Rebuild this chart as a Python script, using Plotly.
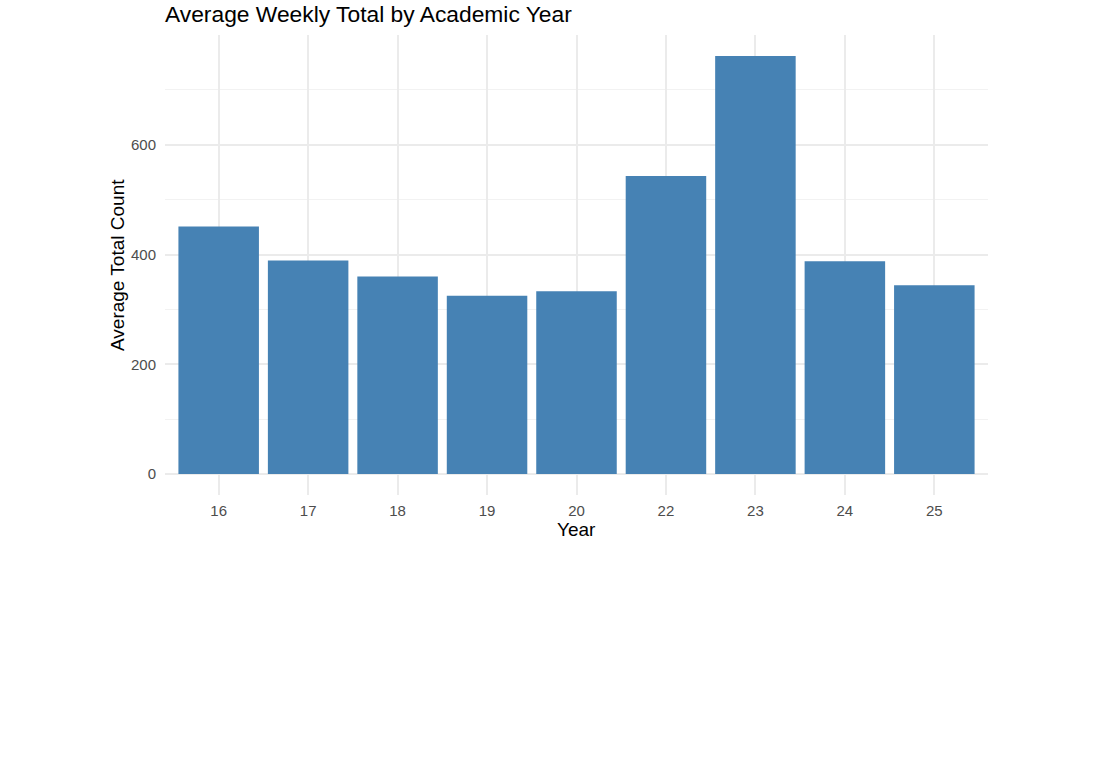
import plotly.graph_objects as go

years = ["16", "17", "18", "19", "20", "22", "23", "24", "25"]
avg_total = [451, 389, 360, 325, 333, 543, 762, 388, 344]

ymax = max(avg_total)
pad = 0.05 * ymax

fig = go.Figure(go.Bar(
    x=years, y=avg_total, width=0.9,
    marker=dict(color="#4682B4", line=dict(width=0)),
))

FONT = "Liberation Sans, Arial, sans-serif"

fig.update_layout(
    width=1120, height=784,
    margin=dict(l=165, r=132, t=35, b=289),
    paper_bgcolor="white", plot_bgcolor="white",
    showlegend=False,
    font=dict(family=FONT),
    xaxis=dict(
        type="category", range=[-0.6, 8.6],
        showgrid=True, gridcolor="#EBEBEB", gridwidth=1.6,
        zeroline=False, showline=False,
        ticks="outside", ticklen=2, tickcolor="rgba(0,0,0,0)",
        tickfont=dict(size=15, color="#4D4D4D", family=FONT),
    ),
    yaxis=dict(
        range=[-pad, ymax + pad],
        tickmode="array", tickvals=[0, 200, 400, 600],
        ticktext=["0", "200", "400", "600"],
        showgrid=True, gridcolor="#EBEBEB", gridwidth=1.6,
        minor=dict(tickmode="array", tickvals=[100, 300, 500, 700],
                   showgrid=True, gridcolor="#F2F2F2", gridwidth=1),
        zeroline=False, showline=False,
        ticks="outside", ticklen=5, tickcolor="rgba(0,0,0,0)",
        tickfont=dict(size=15, color="#4D4D4D", family=FONT),
    ),
    annotations=[
        dict(text="Average Weekly Total by Academic Year", xref="paper", yref="paper",
             x=0, y=1, yshift=21, xshift=-2, xanchor="left", yanchor="middle", showarrow=False,
             font=dict(size=22.8, color="black", family=FONT)),
        dict(text="Year", xref="paper", yref="paper", x=0.5, y=0, yshift=-34,
             xanchor="center", yanchor="middle", showarrow=False,
             font=dict(size=19, color="black", family=FONT)),
        dict(text="Average Total Count", xref="paper", yref="paper", x=0, y=0.5,
             xshift=-48, xanchor="center", yanchor="middle", textangle=-90,
             showarrow=False, font=dict(size=19, color="black", family=FONT)),
    ],
)

fig.write_html("out.html")
